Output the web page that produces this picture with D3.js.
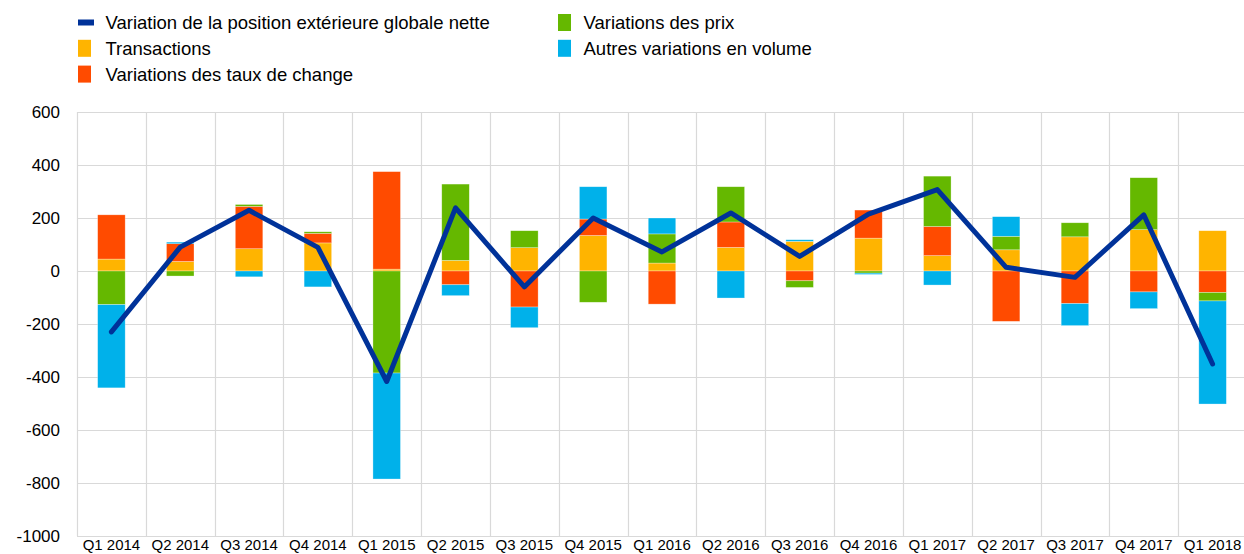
<!DOCTYPE html>
<html>
<head>
<meta charset="utf-8">
<script src="https://cdn.jsdelivr.net/npm/d3@7"></script>
<style>
  body { margin: 0; background: #fff; }
  svg { font-family: "Liberation Sans", Arial, sans-serif; }
</style>
</head>
<body>
<div id="chart"></div>
<script>
// Data (EUR billions)
var quarters = ["Q1 2014", "Q2 2014", "Q3 2014", "Q4 2014", "Q1 2015", "Q2 2015", "Q3 2015", "Q4 2015",
  "Q1 2016", "Q2 2016", "Q3 2016", "Q4 2016", "Q1 2017", "Q2 2017", "Q3 2017", "Q4 2017", "Q1 2018"];
var transactions = [45, 36, 84, 106, 7, 40, 88, 134, 30, 89, 112, 124, 58, 80, 129, 156, 152];
var exchangeRates = [167, 67, 160, 36, 368, -52, -136, 62, -125, 96, -37, 106, 110, -190, -123, -79, -81];
var prices = [-127, -19, 7, 6, -385, 288, 64, -118, 110, 133, -25, -8, 190, 51, 53, 196, -32];
var otherVolume = [-314, 6, -22, -60, -400, -41, -78, 122, 60, -102, 6, -5, -53, 74, -83, -63, -389];
var netPosition = [-230, 90, 229, 89, -417, 238, -60, 200, 72, 219, 55, 215, 307, 14, -24, 212, -351];
var yTicks = [-1000, -800, -600, -400, -200, 0, 200, 400, 600];

var seriesKeys = ["trans", "exch", "price", "other"];
var seriesColors = { trans: "#FFB400", exch: "#FF4B00", price: "#65B800", other: "#00B1EA" };
var lineColor = "#003299";
var gridColor = "#d9d9d9";

// Width and height
var width = 1244;
var height = 554;
var plot = { left: 77, right: 1247, top: 112, bottom: 536 };

var rows = quarters.map(function(q, i) {
  return { q: q, trans: transactions[i], exch: exchangeRates[i], price: prices[i], other: otherVolume[i] };
});

var svg = d3.select("#chart")
  .append("svg")
  .attr("width", width)
  .attr("height", height);

// scales
var x = d3.scaleBand()
  .domain(quarters)
  .range([plot.left, plot.right])
  .paddingInner(0.6)
  .paddingOuter(0.3);

var y = d3.scaleLinear()
  .domain([-1000, 600])
  .range([plot.bottom, plot.top]);

var step = x.step();

// horizontal gridlines
svg.append("g")
  .selectAll("line")
  .data(yTicks)
  .enter()
  .append("line")
  .attr("x1", plot.left)
  .attr("x2", plot.right)
  .attr("y1", function(d) { return Math.round(y(d)) + 0.5; })
  .attr("y2", function(d) { return Math.round(y(d)) + 0.5; })
  .attr("stroke", gridColor)
  .attr("stroke-width", 1.2);

// vertical gridlines at category boundaries
svg.append("g")
  .selectAll("line")
  .data(d3.range(quarters.length + 1))
  .enter()
  .append("line")
  .attr("x1", function(i) { return Math.round(plot.left + i * step) + 0.5; })
  .attr("x2", function(i) { return Math.round(plot.left + i * step) + 0.5; })
  .attr("y1", plot.top)
  .attr("y2", plot.bottom)
  .attr("stroke", gridColor)
  .attr("stroke-width", 1.2);

// y axis labels (plain hyphen, no thousands separator)
var yAxis = d3.axisLeft(y)
  .tickValues(yTicks)
  .tickFormat(function(d) { return String(d); })
  .tickSize(0)
  .tickPadding(17);

svg.append("g")
  .attr("transform", "translate(" + plot.left + ",0)")
  .call(yAxis)
  .call(function(g) { g.select(".domain").remove(); })
  .selectAll("text")
  .attr("font-size", "17px")
  .attr("fill", "#000")
  .attr("font-family", "\"Liberation Sans\", Arial, sans-serif");

// x axis labels
var xAxis = d3.axisBottom(x)
  .tickSize(0)
  .tickPadding(0);

svg.append("g")
  .attr("transform", "translate(0," + (plot.bottom + 3) + ")")
  .call(xAxis)
  .call(function(g) { g.select(".domain").remove(); })
  .selectAll("text")
  .attr("font-size", "15px")
  .attr("fill", "#000")
  .attr("font-family", "\"Liberation Sans\", Arial, sans-serif");

// stacked bars (positive up, negative down)
var stacked = d3.stack()
  .keys(seriesKeys)
  .offset(d3.stackOffsetDiverging)(rows);

svg.append("g")
  .selectAll("g")
  .data(stacked)
  .enter()
  .append("g")
  .attr("fill", function(d) { return seriesColors[d.key]; })
  .selectAll("rect")
  .data(function(d) { return d; })
  .enter()
  .append("rect")
  .attr("x", function(d) { return x(d.data.q); })
  .attr("width", x.bandwidth())
  .attr("y", function(d) { return y(Math.max(d[0], d[1])); })
  .attr("height", function(d) { return Math.abs(y(d[0]) - y(d[1])); })
  .attr("stroke", "#fff")
  .attr("stroke-opacity", 0.5)
  .attr("stroke-width", 0.6);

// net position line
var line = d3.line()
  .x(function(d, i) { return x(quarters[i]) + x.bandwidth() / 2; })
  .y(function(d) { return y(d); });

svg.append("path")
  .datum(netPosition)
  .attr("d", line)
  .attr("fill", "none")
  .attr("stroke", lineColor)
  .attr("stroke-width", 5)
  .attr("stroke-linejoin", "round")
  .attr("stroke-linecap", "round");

// legend
var legendItems = [
  { label: "Variation de la position extérieure globale nette", type: "line", color: lineColor, col: 0, row: 0 },
  { label: "Transactions", type: "box", color: seriesColors.trans, col: 0, row: 1 },
  { label: "Variations des taux de change", type: "box", color: seriesColors.exch, col: 0, row: 2 },
  { label: "Variations des prix", type: "box", color: seriesColors.price, col: 1, row: 0 },
  { label: "Autres variations en volume", type: "box", color: seriesColors.other, col: 1, row: 1 }
];
var legendX = [78, 558];
var legendY = 22.5;
var legendRow = 25.8;

var legend = svg.append("g")
  .selectAll("g")
  .data(legendItems)
  .enter()
  .append("g")
  .attr("transform", function(d) {
    return "translate(" + legendX[d.col] + "," + (legendY + d.row * legendRow) + ")";
  });

legend.append("rect")
  .attr("x", 0)
  .attr("y", function(d) { return d.type == "line" ? -3 : -8.5; })
  .attr("width", function(d) { return d.type == "line" ? 16 : 13; })
  .attr("height", function(d) { return d.type == "line" ? 6 : 17; })
  .attr("fill", function(d) { return d.color; });

legend.append("text")
  .attr("x", function(d) { return d.col == 0 ? 27.5 : 25.5; })
  .attr("dy", "0.35em")
  .attr("font-size", "18.5px")
  .attr("fill", "#000")
  .text(function(d) { return d.label; });
</script>
</body>
</html>
